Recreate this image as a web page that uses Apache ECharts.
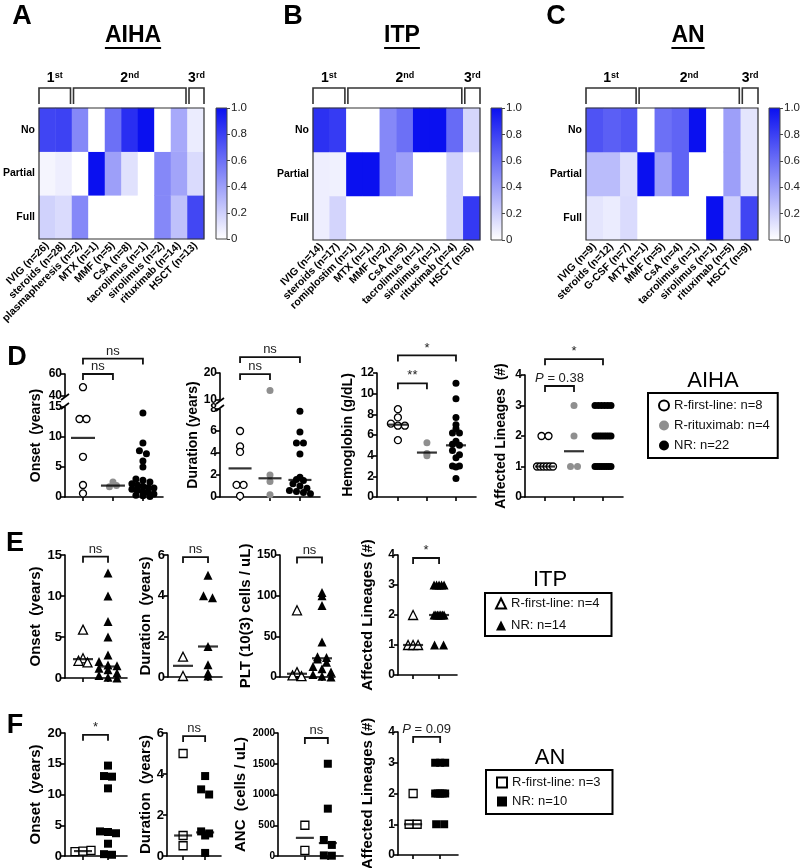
<!DOCTYPE html>
<html><head><meta charset="utf-8">
<script src="https://cdn.jsdelivr.net/npm/echarts@6/dist/echarts.min.js"></script>
<style>html,body{margin:0;padding:0;background:#fff}#c{width:800px;height:868px}</style>
</head><body><div id="c"></div><script>
// ================= DATA =================
const responseRows = ['Full', 'Partial', 'No'];
const colorbarTicks = [0, 0.2, 0.4, 0.6, 0.8, 1.0];
const lineLabels = ['1st', '2nd', '3rd'];

const aihaTreatments = ['IVIG (n=26)','steroids (n=28)','plasmapheresis (n=2)','MTX (n=1)','MMF (n=5)','CsA (n=8)','tacrolimus (n=1)','sirolimus (n=2)','rituximab (n=14)','HSCT (n=13)'];
const aihaNo      = [0.78, 0.79, 0.5, 0, 0.6, 0.875, 1, 0, 0.36, 0.08];
const aihaPartial = [0.04, 0.07, 0, 1, 0.4, 0.125, 0, 0.5, 0.38, 0.15];
const aihaFull    = [0.19, 0.15, 0.5, 0, 0, 0, 0, 0.5, 0.26, 0.77];

const itpTreatments = ['IVIG (n=14)','steroids (n=17)','romiplostim (n=1)','MTX (n=1)','MMF (n=2)','CsA (n=5)','tacrolimus (n=1)','sirolimus (n=1)','rituximab (n=4)','HSCT (n=6)'];
const itpNo      = [0.86, 0.82, 0, 0, 0.5, 0.6, 1, 1, 0.62, 0.17];
const itpPartial = [0.07, 0.06, 1, 1, 0.5, 0.4, 0, 0, 0.19, 0];
const itpFull    = [0.07, 0.18, 0, 0, 0, 0, 0, 0, 0.19, 0.83];

const anTreatments = ['IVIG (n=9)','steroids (n=12)','G-CSF (n=7)','MTX (n=1)','MMF (n=5)','CsA (n=4)','tacrolimus (n=1)','sirolimus (n=1)','rituximab (n=5)','HSCT (n=9)'];
const anNo      = [0.72, 0.67, 0.71, 0, 0.6, 0.65, 1, 0, 0.4, 0.11];
const anPartial = [0.28, 0.28, 0.14, 1, 0.4, 0.65, 0, 0, 0.4, 0.11];
const anFull    = [0.11, 0.08, 0.15, 0, 0, 0, 0, 1, 0.2, 0.78];

const aihaLegend = ['R-first-line: n=8', 'R-rituximab: n=4', 'NR: n=22'];
const itpLegend  = ['R-first-line: n=4', 'NR: n=14'];
const anLegend   = ['R-first-line: n=3', 'NR: n=10'];

// D - AIHA
const aihaOnsetFirst = [48, 13, 13, 6.7, 2, 0.6];
const aihaOnsetRitux = [2.5, 1.7, 1.9];
const aihaOnsetNR    = [14, 9, 7.7, 7.2, 6, 5, 3, 2.8, 2.5, 2.2, 2.0, 1.8, 1.6, 1.5, 1.3, 1.1, 0.9, 0.7, 0.5, 0.3, 0.2, 0.1];
const aihaOnsetMedian = [9.85, 1.9, 1.6];

const aihaDurFirst = [6, 4.6, 4.1, 1.1, 1.1, 0.1];
const aihaDurRitux = [13.5, 2.0, 1.4, 0.2];
const aihaDurNR    = [7.8, 5.9, 4.9, 4.9, 3.9, 1.8, 1.6, 1.5, 1.2, 1.0, 0.8, 0.6, 0.5, 0.4, 0.3];
const aihaDurMedian = [2.6, 1.7, 1.55];

const aihaHgbFirst = [8.5, 7.7, 7.1, 6.9, 6.9, 5.5];
const aihaHgbRitux = [5.25, 4.2, 4.0];
const aihaHgbNR    = [11.0, 9.5, 7.7, 7.0, 6.6, 6.2, 6.2, 5.4, 5.1, 5.0, 4.5, 4.1, 3.8, 3.0, 3.0, 2.9, 1.8];
const aihaHgbMedian = [7.0, 4.3, 5.0];

const aihaLinFirst = [2, 2, 1, 1, 1, 1, 1, 1];
const aihaLinRitux = [3, 2, 1, 1];
const aihaLinNR    = [3,3,3,3,3,3, 2,2,2,2,2,2,2,2, 1,1,1,1,1,1,1,1];
const aihaLinMedian = [1, 1.5, 2];

// E - ITP
const itpOnsetFirst = [5.9, 2.4, 2.1, 1.9];
const itpOnsetNR    = [12.8, 10, 6.9, 5, 2.8, 2.0, 1.6, 1.5, 1.2, 1.0, 0.6, 0.3, 0.1, 0];
const itpOnsetMedian = [2.3, 1.4];

const itpDurFirst = [1.0, 0.05];
const itpDurNR    = [5.0, 4.0, 3.9, 1.5, 0.6, 0.2, 0.05];
const itpDurMedian = [0.55, 1.5];

const itpPltFirst = [82, 6, 2, 1];
const itpPltNR    = [104, 100, 88, 43, 25, 24, 22, 18, 13, 10, 6, 3, 1, 0];
const itpPltMedian = [4, 23];

const itpLinFirst = [2, 1, 1, 1];
const itpLinNR    = [3,3,3,3,3, 2,2,2,2,2,2,2, 1,1];
const itpLinMedian = [1, 2];

// F - AN
const anOnsetFirst = [0.7, 0.8, 0.9];
const anOnsetNR    = [14.7, 13.0, 12.9, 11.0, 4.0, 3.9, 3.7, 2.0, 0.3, 0.2];
const anOnsetMedian = [0.8, 4.0];

const anDurFirst = [5.0, 1.0, 0.5];
const anDurNR    = [3.9, 3.25, 3.0, 1.2, 1.1, 1.0, 0.15];
const anDurMedian = [1.0, 1.15];

const anAncFirst = [500, 90];
const anAncNR    = [1500, 770, 260, 180, 10, 5];
const anAncMedian = [295, 210];

const anLinFirst = [2, 1, 1];
const anLinNR    = [3,3,3, 2,2,2,2,2, 1,1];
const anLinMedian = [1, 2];

// ================= STYLE / LAYOUT =================
const FONT = '"Liberation Sans", Arial, sans-serif';
const BLUE = '#0a10f0';
const GRAY = '#8f8f8f';

const heatPanels = [
  {title:'AIHA', letter:'A', letterX:22, titleX:133, treatments:aihaTreatments, no:aihaNo, partial:aihaPartial, full:aihaFull,
   left:39, top:108, width:165, height:131, cbLeft:216, spans:[[0,1],[2,8],[9,9]]},
  {title:'ITP', letter:'B', letterX:293, titleX:402, treatments:itpTreatments, no:itpNo, partial:itpPartial, full:itpFull,
   left:313, top:108, width:167, height:132, cbLeft:491, spans:[[0,1],[2,8],[9,9]]},
  {title:'AN', letter:'C', letterX:556, titleX:688, treatments:anTreatments, no:anNo, partial:anPartial, full:anFull,
   left:586, top:108, width:172, height:132, cbLeft:769, spans:[[0,2],[3,8],[9,9]]}
];

const aihaStyle = [
  {symbol:'circle', size:7, fill:'#fff', stroke:'#000'},
  {symbol:'circle', size:7, fill:GRAY, stroke:GRAY},
  {symbol:'circle', size:7, fill:'#000', stroke:'#000'}];
const itpStyle = [
  {symbol:'triangle', size:9, fill:'#fff', stroke:'#000'},
  {symbol:'triangle', size:9, fill:'#000', stroke:'#000'}];
const anStyle = [
  {symbol:'rect', size:8, fill:'#fff', stroke:'#000'},
  {symbol:'rect', size:8, fill:'#000', stroke:'#000'}];

const P38 = '{i|P} = 0.38', P09 = '{i|P} = 0.09';

const scatterPanels = [
  {x0:65, x1:163, xMin:0.4, xMax:3.67, segs:[{top:407,bottom:497,min:0,max:15,interval:5},{top:374,bottom:396,min:40,max:60,interval:20}],
   name:'Onset  (years)', nameGap:22, nameSize:14, tickFont:12, maxHalf:11, medW:24,
   groups:[aihaOnsetFirst, aihaOnsetRitux, aihaOnsetNR], names:aihaLegend, style:aihaStyle, medians:aihaOnsetMedian,
   brackets:[[1,2,60,'ns'],[1,3,74,'ns']]},
  {x0:220, x1:320, xMin:0.33, xMax:3.67, segs:[{top:409,bottom:497,min:0,max:8,interval:2},{top:373,bottom:400,min:10,max:20,interval:10}],
   name:'Duration (years)', nameGap:20, nameSize:14, tickFont:12, maxHalf:11, medW:23,
   groups:[aihaDurFirst, aihaDurRitux, aihaDurNR], names:aihaLegend, style:aihaStyle, medians:aihaDurMedian,
   brackets:[[1,2,19.6,'ns'],[1,3,25.9,'ns']]},
  {x0:377, x1:476, xMin:0.28, xMax:3.69, segs:[{top:373,bottom:497,min:0,max:12,interval:2}],
   name:'Hemoglobin (g/dL)', nameGap:22, nameSize:14, tickFont:12, maxHalf:11, medW:20,
   groups:[aihaHgbFirst, aihaHgbRitux, aihaHgbNR], names:aihaLegend, style:aihaStyle, medians:aihaHgbMedian,
   brackets:[[1,2,11.0,'**'],[1,3,13.7,'*']]},
  {x0:525, x1:623, xMin:0.31, xMax:3.69, segs:[{top:375,bottom:497,min:0,max:4,interval:1}],
   name:'Affected Lineages  (#)', nameGap:17, nameSize:14, tickFont:12, maxHalf:8, medW:20,
   groups:[aihaLinFirst, aihaLinRitux, aihaLinNR], names:aihaLegend, style:aihaStyle, medians:aihaLinMedian,
   brackets:[[1,2,3.64,P38],[1,3,4.52,'*']]},

  {x0:65, x1:127, xMin:0.28, xMax:2.76, segs:[{top:555,bottom:678,min:0,max:15,interval:5}],
   name:'Onset  (years)', nameGap:22, nameSize:15, tickFont:13, maxHalf:9, medW:20,
   groups:[itpOnsetFirst, itpOnsetNR], names:itpLegend, style:itpStyle, medians:itpOnsetMedian, brackets:[[1,2,14.8,'ns']]},
  {x0:168, x1:222, xMin:0.4, xMax:2.56, segs:[{top:555,bottom:677,min:0,max:6,interval:2}],
   name:'Duration  (years)', nameGap:15, nameSize:15, tickFont:13, maxHalf:9, medW:20,
   groups:[itpDurFirst, itpDurNR], names:itpLegend, style:itpStyle, medians:itpDurMedian, brackets:[[1,2,5.9,'ns']]},
  {x0:280, x1:335, xMin:0.32, xMax:2.52, segs:[{top:555,bottom:677,min:0,max:150,interval:50}],
   name:'PLT (10(3) cells / uL)', nameGap:25, nameSize:15, tickFont:12, maxHalf:9, medW:20,
   groups:[itpPltFirst, itpPltNR], names:itpLegend, style:itpStyle, medians:itpPltMedian, brackets:[[1,2,147,'ns']]},
  {x0:398, x1:457, xMin:0.42, xMax:2.69, segs:[{top:555,bottom:675,min:0,max:4,interval:1}],
   name:'Affected Lineages (#)', nameGap:23, nameSize:15, tickFont:12, maxHalf:5, medW:20,
   groups:[itpLinFirst, itpLinNR], names:itpLegend, style:itpStyle, medians:itpLinMedian, brackets:[[1,2,3.9,'*']]},

  {x0:65, x1:127, xMin:0.28, xMax:2.76, segs:[{top:733,bottom:856,min:0,max:20,interval:5}],
   name:'Onset  (years)', nameGap:22, nameSize:15, tickFont:13, maxHalf:9, medW:18,
   groups:[anOnsetFirst, anOnsetNR], names:anLegend, style:anStyle, medians:anOnsetMedian, brackets:[[1,2,19.7,'*']]},
  {x0:167, x1:221, xMin:0.27, xMax:2.72, segs:[{top:733,bottom:856,min:0,max:6,interval:2}],
   name:'Duration  (years)', nameGap:14, nameSize:15, tickFont:13, maxHalf:9, medW:18,
   groups:[anDurFirst, anDurNR], names:anLegend, style:anStyle, medians:anDurMedian, brackets:[[1,2,5.85,'ns']]},
  {x0:278, x1:343, xMin:-0.17, xMax:2.66, segs:[{top:733,bottom:856,min:0,max:2000,interval:500}],
   name:'ANC  (cells / uL)', nameGap:23, nameSize:15, tickFont:10, maxHalf:9, medW:18,
   groups:[anAncFirst, anAncNR], names:anLegend, style:anStyle, medians:anAncMedian, brackets:[[1,2,1919,'ns']]},
  {x0:398, x1:458, xMin:0.44, xMax:2.66, segs:[{top:732,bottom:855,min:0,max:4,interval:1}],
   name:'Affected Lineages (#)', nameGap:23, nameSize:15, tickFont:12, maxHalf:5, medW:18,
   groups:[anLinFirst, anLinNR], names:anLegend, style:anStyle, medians:anLinMedian, brackets:[[1,2,3.84,P09]]}
];

// ================= BUILD =================
const chart = echarts.init(document.getElementById('c'), null, {width:800, height:868});
const grids = [], xAxes = [], yAxes = [], series = [], heatIdx = [];
const bracketJobs = [], breakJobs = [];

function addGrid(l, t, w, h) {
  grids.push({left:l, top:t, width:w, height:h, outerBoundsMode:'none', containLabel:false});
  return grids.length - 1;
}

// ---- heatmaps + colorbars ----
heatPanels.forEach(h => {
  const gi = addGrid(h.left, h.top, h.width, h.height);
  xAxes.push({type:'category', gridIndex:gi, data:h.treatments,
    axisLine:{show:false}, axisTick:{show:false}, splitLine:{show:false},
    axisLabel:{interval:0, rotate:45, fontSize:10.5, fontWeight:'bold', color:'#000', margin:5, fontFamily:FONT}});
  yAxes.push({type:'category', gridIndex:gi, data:responseRows,
    axisLine:{show:false}, axisTick:{show:false}, splitLine:{show:false},
    axisLabel:{fontSize:10.5, fontWeight:'bold', color:'#000', margin:4, fontFamily:FONT}});
  const data = [];
  h.treatments.forEach((t, i) => { data.push([i, 0, h.full[i]], [i, 1, h.partial[i]], [i, 2, h.no[i]]); });
  series.push({type:'heatmap', xAxisIndex:xAxes.length-1, yAxisIndex:yAxes.length-1, data, silent:true,
    itemStyle:{borderWidth:0}});
  heatIdx.push(series.length - 1);

  const cg = addGrid(h.cbLeft, h.top, 11, h.height);
  xAxes.push({type:'category', gridIndex:cg, data:[''], show:false});
  yAxes.push({type:'value', gridIndex:cg, position:'right', min:colorbarTicks[0], max:colorbarTicks[colorbarTicks.length-1], interval:colorbarTicks[1]-colorbarTicks[0],
    axisLine:{show:false}, splitLine:{show:false},
    axisTick:{show:true, length:3, lineStyle:{color:'#444', width:1}},
    axisLabel:{fontSize:11.5, color:'#222', margin:4, fontFamily:FONT, formatter:v => v === 0 ? '0' : v.toFixed(1)}});
  series.push({type:'bar', xAxisIndex:xAxes.length-1, yAxisIndex:yAxes.length-1, data:[colorbarTicks[colorbarTicks.length-1]], barWidth:'100%', silent:true,
    itemStyle:{color:new echarts.graphic.LinearGradient(0, 1, 0, 0, [{offset:0, color:'#ffffff'}, {offset:1, color:BLUE}])}});
});

// ---- swarm layout (GraphPad-like rows) ----
function swarm(vals, pxY, d, maxHalf) {
  const rowH = d * 0.8, rows = new Map();
  vals.forEach((v, i) => {
    const r = Math.round(v * pxY / rowH);
    if (!rows.has(r)) rows.set(r, []);
    rows.get(r).push(i);
  });
  const offs = vals.map(() => 0);
  rows.forEach(idx => {
    const n = idx.length;
    const sp = n > 1 ? Math.min(d, 2 * maxHalf / (n - 1)) : 0;
    idx.forEach((i, k) => { offs[i] = (k - (n - 1) / 2) * sp; });
  });
  return offs;
}

const axisBlack = {color:'#000', width:1.6};

scatterPanels.forEach(p => {
  const segRefs = [];
  const broken = p.segs.length > 1;
  const nameOpts = {name:p.name, nameLocation:'middle', nameGap:p.nameGap, nameRotate:90,
    nameTextStyle:{fontSize:p.nameSize, fontWeight:'bold', color:'#000', fontFamily:FONT}};
  p.segs.forEach((s, si) => {
    const gi = addGrid(p.x0, s.top, p.x1 - p.x0, s.bottom - s.top);
    const bottom = si === 0;
    xAxes.push({type:'value', gridIndex:gi, min:p.xMin, max:p.xMax, show:bottom,
      axisLine:{show:true, onZero:false, lineStyle:axisBlack},
      axisTick:{show:true, length:4, customValues:p.groups.map((_, k) => k + 1), lineStyle:axisBlack},
      axisLabel:{show:false}, splitLine:{show:false}});
    yAxes.push(Object.assign({type:'value', gridIndex:gi, min:s.min, max:s.max, interval:s.interval,
      axisLine:{show:true, onZero:false, lineStyle:axisBlack},
      axisTick:{show:true, length:4, lineStyle:axisBlack},
      axisLabel:{fontSize:p.tickFont, fontWeight:'bold', color:'#000', margin:3, fontFamily:FONT, formatter:v => String(v)},
      splitLine:{show:false}}, broken ? {} : nameOpts));
    segRefs.push(Object.assign({xi:xAxes.length-1, yi:yAxes.length-1}, s));
  });
  if (broken) {
    const top = Math.min(...p.segs.map(s => s.top)), bot = Math.max(...p.segs.map(s => s.bottom));
    const fg = addGrid(p.x0, top, p.x1 - p.x0, bot - top);
    xAxes.push({type:'value', gridIndex:fg, show:false, min:0, max:1});
    yAxes.push(Object.assign({type:'value', gridIndex:fg, min:0, max:1,
      axisLine:{show:false}, axisTick:{show:false}, axisLabel:{show:false}, splitLine:{show:false}}, nameOpts));
    breakJobs.push({x:p.x0, yUpper:p.segs[1].bottom, yLower:p.segs[0].top});
  }
  const segOf = v => (broken && v >= p.segs[1].min) ? 1 : 0;
  p.groups.forEach((vals, g) => {
    const st = p.style[g];
    p.segs.forEach((s, si) => {
      const inSeg = vals.filter(v => segOf(v) === si);
      if (!inSeg.length) return;
      const ref = segRefs[si];
      const pxY = (s.bottom - s.top) / (s.max - s.min);
      const pxX = (p.x1 - p.x0) / (p.xMax - p.xMin);
      const offs = swarm(inSeg.map(v => v - s.min), pxY, st.size, p.maxHalf);
      series.push({type:'scatter', name:p.names[g], xAxisIndex:ref.xi, yAxisIndex:ref.yi, clip:false, silent:true,
        symbol:st.symbol, symbolSize:st.size,
        itemStyle:{color:st.fill, borderColor:st.stroke, borderWidth:st.fill === '#fff' ? 1.3 : 0, opacity:1},
        data:inSeg.map((v, k) => [g + 1 + offs[k] / pxX, v]), z:2});
    });
  });
  series.push({type:'scatter', xAxisIndex:segRefs[0].xi, yAxisIndex:segRefs[0].yi, clip:false, silent:true,
    symbol:'rect', symbolSize:[p.medW, 2.2], itemStyle:{color:'#000'},
    data:p.medians.map((m, i) => [i + 1, m]), z:3});
  const topRef = segRefs[segRefs.length - 1];
  p.brackets.forEach(b => bracketJobs.push({xi:topRef.xi, yi:topRef.yi, a:b[0], b:b[1], y:b[2], label:b[3]}));
});

const legendBase = {orient:'vertical', selectedMode:false, borderColor:'#000', borderWidth:2,
  itemWidth:10, itemHeight:10, textStyle:{fontSize:13, color:'#111', fontFamily:FONT}};

chart.setOption({
  animation:false,
  backgroundColor:'#fff',
  textStyle:{fontFamily:FONT},
  grid:grids, xAxis:xAxes, yAxis:yAxes, series,
  visualMap:[{type:'continuous', show:false, min:0, max:1, seriesIndex:heatIdx, inRange:{color:['#ffffff', BLUE]}}],
  legend:[
    Object.assign({}, legendBase, {data:aihaLegend, left:648, top:393, padding:[6, 8, 6, 10], itemGap:7}),
    Object.assign({}, legendBase, {data:itpLegend, left:485, top:593, padding:[4, 12, 4, 10], itemGap:9}),
    Object.assign({}, legendBase, {data:anLegend, left:486, top:770, padding:[6, 12, 6, 10], itemGap:6})
  ]
});

// ================= ANNOTATIONS =================
const gfx = [];
const ctx = document.createElement('canvas').getContext('2d');
function textW(t, font) { ctx.font = font; return ctx.measureText(t).width; }
function txt(text, x, y, st) {
  return {type:'text', x, y, z:100, silent:true,
    style:Object.assign({text, fontFamily:FONT, fill:'#000', align:'center', verticalAlign:'middle'}, st)};
}
function poly(points, w, color) {
  return {type:'polyline', z:100, silent:true, shape:{points}, style:{stroke:color || '#000', lineWidth:w, fill:null}};
}
function rect(x, y, w, h, color, lw) {
  return {type:'rect', z:100, silent:true, shape:{x, y, width:w, height:h}, style:{stroke:color, lineWidth:lw, fill:null}};
}

// panel letters
[['D', 17, 358], ['E', 15, 544], ['F', 15, 726]].forEach(l => gfx.push(txt(l[0], l[1], l[2], {fontSize:27, fontWeight:'bold'})));

heatPanels.forEach(h => {
  gfx.push(txt(h.letter, h.letterX, 17, {fontSize:27, fontWeight:'bold'}));
  gfx.push(txt(h.title, h.titleX, 36, {fontSize:23, fontWeight:'bold'}));
  const tw = textW(h.title, 'bold 23px ' + FONT);
  gfx.push(poly([[h.titleX - tw / 2, 48], [h.titleX + tw / 2, 48]], 2));
  gfx.push(rect(h.left, h.top, h.width, h.height, '#333', 1.2));
  gfx.push(rect(h.cbLeft, h.top, 11, h.height, '#444', 1));
  const n = h.treatments.length, cw = h.width / n;
  h.spans.forEach((sp, k) => {
    const x1 = h.left + sp[0] * cw + (sp[0] === 0 ? 0 : 1.5);
    const x2 = h.left + (sp[1] + 1) * cw - (sp[1] === n - 1 ? 0 : 1.5);
    gfx.push(poly([[x1, 104], [x1, 88], [x2, 88], [x2, 104]], 1.6, '#333'));
    const lab = lineLabels[k];
    gfx.push(txt(lab.slice(0, 1) + '{s|' + lab.slice(1) + '}', (x1 + x2) / 2, 78,
      {fontSize:14, fontWeight:'bold', rich:{s:{fontSize:9, fontWeight:'bold', verticalAlign:'top', fontFamily:FONT}}}));
  });
});

// legend titles
gfx.push(txt('AIHA', 713, 381, {fontSize:22}));
gfx.push(txt('ITP', 550, 580, {fontSize:22}));
gfx.push(txt('AN', 550, 758, {fontSize:22}));

// significance brackets
bracketJobs.forEach(j => {
  const pa = chart.convertToPixel({xAxisIndex:j.xi, yAxisIndex:j.yi}, [j.a, j.y]);
  const pb = chart.convertToPixel({xAxisIndex:j.xi, yAxisIndex:j.yi}, [j.b, j.y]);
  gfx.push(poly([[pa[0], pa[1] + 6], [pa[0], pa[1]], [pb[0], pb[1]], [pb[0], pb[1] + 6]], 1.8, '#111'));
  gfx.push(txt(j.label, (pa[0] + pb[0]) / 2, pa[1] - 1,
    {fontSize:13, fill:'#222', verticalAlign:'bottom', rich:{i:{fontStyle:'italic', fontSize:13, fill:'#222', fontFamily:FONT}}}));
});

// axis break marks
breakJobs.forEach(b => {
  [b.yUpper + 1, b.yLower - 1].forEach(y => gfx.push(poly([[b.x - 4, y + 3], [b.x + 4, y - 3]], 1.6)));
});

chart.setOption({graphic:gfx});
</script></body></html>
